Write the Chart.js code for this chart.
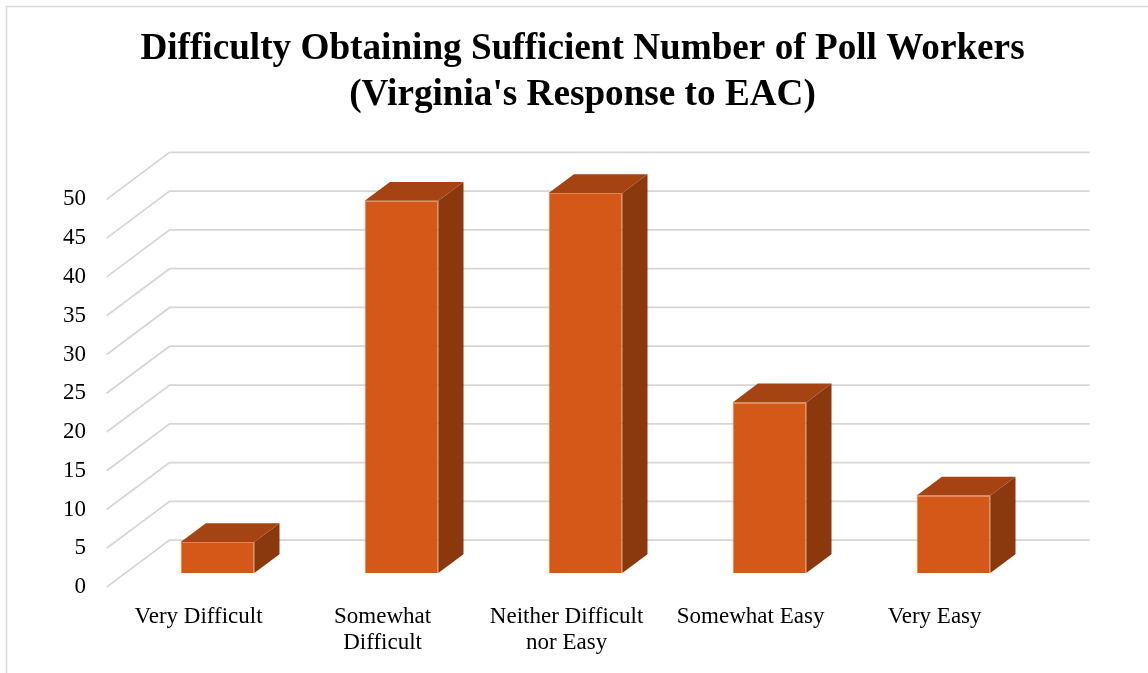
<!DOCTYPE html>
<html>
<head>
<meta charset="utf-8">
<title>Difficulty Obtaining Sufficient Number of Poll Workers</title>
<script src="https://cdn.jsdelivr.net/npm/chart.js@4.4.1/dist/chart.umd.min.js"></script>
<style>
  html, body { margin: 0; padding: 0; background: #fff; }
  #wrap { width: 1148px; height: 673px; }
</style>
</head>
<body>
<div id="wrap"><canvas id="grafico" width="1148" height="673"></canvas></div>
<script>
// respuestas de Virginia a la encuesta EAC
let categorias = [
  "Very Difficult",
  ["Somewhat", "Difficult"],
  ["Neither Difficult", "nor Easy"],
  "Somewhat Easy",
  "Very Easy"
];
let valores = [4, 48, 49, 22, 10];
let titulo = ["Difficulty Obtaining Sufficient Number of Poll Workers", "(Virginia's Response to EAC)"];

let fuente = "'Liberation Serif', 'Times New Roman', serif";

// profundidad del efecto 3D
const PROF_X = 63, PROF_Y = 47, FRENTE = 0.3, FONDO_BARRA = 0.4;

// marco gris alrededor del grafico
const marco = {
  id: "marco",
  beforeDraw(chart) {
    let ctx = chart.ctx;
    ctx.save();
    ctx.strokeStyle = "#d9d9d9";
    ctx.lineWidth = 1.5;
    ctx.strokeRect(6.5, 6.5, chart.width + 20, chart.height + 20);
    ctx.restore();
  }
};

// lineas de la cuadricula en perspectiva (piso lateral y pared del fondo)
const cuadricula = {
  id: "cuadricula",
  beforeDatasetsDraw(chart) {
    let ctx = chart.ctx;
    let y = chart.scales.y;
    let area = chart.chartArea;
    ctx.save();
    ctx.strokeStyle = "#d6d6d6";
    ctx.lineWidth = 1.75;
    y.ticks.forEach(t => {
      let py = y.getPixelForValue(t.value);
      let fx = area.left - FRENTE * PROF_X, fy = py + FRENTE * PROF_Y;
      let bx = area.left + (1 - FRENTE) * PROF_X, by = py - (1 - FRENTE) * PROF_Y;
      ctx.beginPath();
      ctx.moveTo(fx, fy);
      ctx.lineTo(bx, by);
      ctx.lineTo(area.right + (1 - FRENTE) * PROF_X, by);
      ctx.stroke();
    });
    ctx.restore();
  }
};

// caras superior y lateral de cada barra
const caras = {
  id: "caras",
  afterDatasetsDraw(chart) {
    let ctx = chart.ctx;
    let dx = FONDO_BARRA * PROF_X, dy = FONDO_BARRA * PROF_Y;
    ctx.save();
    chart.getDatasetMeta(0).data.forEach(b => {
      let izq = b.x - b.width / 2, der = b.x + b.width / 2;
      ctx.fillStyle = "#8a390f";
      ctx.beginPath();
      ctx.moveTo(der, b.y);
      ctx.lineTo(der + dx, b.y - dy);
      ctx.lineTo(der + dx, b.base - dy);
      ctx.lineTo(der, b.base);
      ctx.closePath();
      ctx.fill();
      ctx.fillStyle = "#a54313";
      ctx.beginPath();
      ctx.moveTo(izq, b.y);
      ctx.lineTo(izq + dx, b.y - dy);
      ctx.lineTo(der + dx, b.y - dy);
      ctx.lineTo(der, b.y);
      ctx.closePath();
      ctx.fill();
    });
    ctx.restore();
  }
};

let ctx = document.getElementById("grafico").getContext("2d");

new Chart(ctx, {
  type: "bar",
  data: {
    labels: categorias,
    datasets: [{
      data: valores,
      backgroundColor: "#d45818",
      borderColor: "#e8844e",
      borderWidth: 1,
      categoryPercentage: 1,
      barPercentage: 0.4
    }]
  },
  options: {
    responsive: false,
    animation: false,
    layout: { padding: { left: 17, right: 0, top: 0, bottom: 0 } },
    plugins: {
      legend: { display: false },
      tooltip: { enabled: false },
      title: {
        display: true,
        text: titulo,
        color: "#000",
        font: { family: fuente, size: 37.2, weight: "bold", lineHeight: 1.24 },
        padding: { top: 26, bottom: 67 }
      }
    },
    scales: {
      x: {
        grid: { display: false, drawTicks: false },
        border: { display: false },
        ticks: {
          color: "#000",
          font: { family: fuente, size: 23, lineHeight: 1.17 },
          maxRotation: 0,
          autoSkip: false,
          padding: 30,
          labelOffset: -FRENTE * PROF_X
        },
        afterFit(s) { s.height = 100; }
      },
      y: {
        min: 0,
        max: 50,
        grid: { display: false, drawTicks: false },
        border: { display: false },
        ticks: {
          stepSize: 5,
          color: "#000",
          font: { family: fuente, size: 23 },
          padding: 39.5,
          labelOffset: FRENTE * PROF_Y
        },
        afterFit(s) { s.width = 108.5; }
      },
      // espacio vacio a la derecha para la pared del fondo
      derecha: {
        position: "right",
        grid: { display: false, drawTicks: false },
        border: { display: false },
        ticks: { display: false },
        afterFit(s) { s.width = 102.5; }
      }
    }
  },
  plugins: [marco, cuadricula, caras]
});
</script>
</body>
</html>
